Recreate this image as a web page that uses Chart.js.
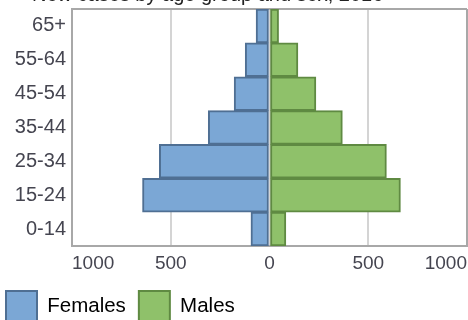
<!DOCTYPE html>
<html>
<head>
<meta charset="utf-8">
<script src="https://cdn.jsdelivr.net/npm/chart.js@4/dist/chart.umd.min.js"></script>
<style>
  html, body { margin: 0; padding: 0; background: #fff; }
  #wrap { width: 468px; height: 320px; }
</style>
</head>
<body>
<div id="wrap"><canvas id="pyramid" width="468" height="320"></canvas></div>
<script>
const ageGroups = ['65+', '55-64', '45-54', '35-44', '25-34', '15-24', '0-14'];
const females = [68, 123, 179, 310, 558, 643, 94];
const males = [46, 144, 235, 369, 592, 663, 83];
const xTicks = [-1000, -500, 0, 500, 1000];
const titleText = 'New cases by age group and sex, 2016';

const FONT = '"Liberation Sans", Arial, sans-serif';
const frameColor = '#a8a8a8';
const gridColor = '#d4d4d4';

// title sits mostly above the canvas, only its bottom shows
const clippedTitle = {
    id: 'clippedTitle',
    beforeDraw(chart) {
        const ctx = chart.ctx;
        ctx.save();
        ctx.font = '20px ' + FONT;
        ctx.fillStyle = '#222';
        ctx.textAlign = 'left';
        ctx.textBaseline = 'alphabetic';
        ctx.fillText(titleText, 32, 0.5);
        ctx.restore();
    }
};

new Chart(document.getElementById('pyramid'), {
    type: 'bar',
    data: {
        labels: ageGroups,
        datasets: [
            {
                label: 'Females',
                data: females.map(v => -v),
                backgroundColor: '#7ba7d5',
                borderColor: '#4f6f93',
                borderWidth: 2,
                borderSkipped: false
            },
            {
                label: 'Males',
                data: males,
                backgroundColor: '#8fc16a',
                borderColor: '#5f8a42',
                borderWidth: 2,
                borderSkipped: false
            }
        ]
    },
    options: {
        indexAxis: 'y',
        responsive: false,
        animation: false,
        barPercentage: 1,
        categoryPercentage: 1,
        layout: { padding: { top: 9, right: 1, left: -7, bottom: -11 } },
        scales: {
            x: {
                stacked: true,
                min: -1000,
                max: 1000,
                afterBuildTicks: axis => { axis.ticks = xTicks.map(v => ({ value: v })); },
                afterFit: axis => {
                    axis.height = 32;
                    axis.paddingLeft = 0;
                    axis.paddingRight = 0;
                },
                grid: {
                    drawTicks: false,
                    lineWidth: 2,
                    color: c => (c.tick && Math.abs(c.tick.value) === 1000) ? frameColor : gridColor
                },
                border: { color: frameColor, width: 2 },
                ticks: {
                    padding: 6,
                    align: 'inner',
                    color: '#454550',
                    font: { family: FONT, size: 19 },
                    callback: v => Math.abs(v)
                }
            },
            y: {
                stacked: true,
                afterFit: axis => {
                    axis.width = 79;
                    axis.paddingTop = 0;
                    axis.paddingBottom = 0;
                },
                grid: {
                    offset: true,
                    drawTicks: false,
                    lineWidth: 2,
                    color: c => c.index === 0 ? frameColor : 'rgba(0,0,0,0)'
                },
                border: { color: frameColor, width: 2 },
                ticks: {
                    padding: 6,
                    color: '#454550',
                    font: { family: FONT, size: 20 }
                }
            }
        },
        plugins: {
            title: { display: false },
            tooltip: { enabled: false },
            legend: {
                position: 'bottom',
                align: 'start',
                labels: {
                    boxWidth: 31,
                    boxHeight: 30,
                    padding: 13,
                    color: '#000',
                    font: { family: FONT, size: 20.5 }
                }
            }
        }
    },
    plugins: [clippedTitle]
});
</script>
</body>
</html>
